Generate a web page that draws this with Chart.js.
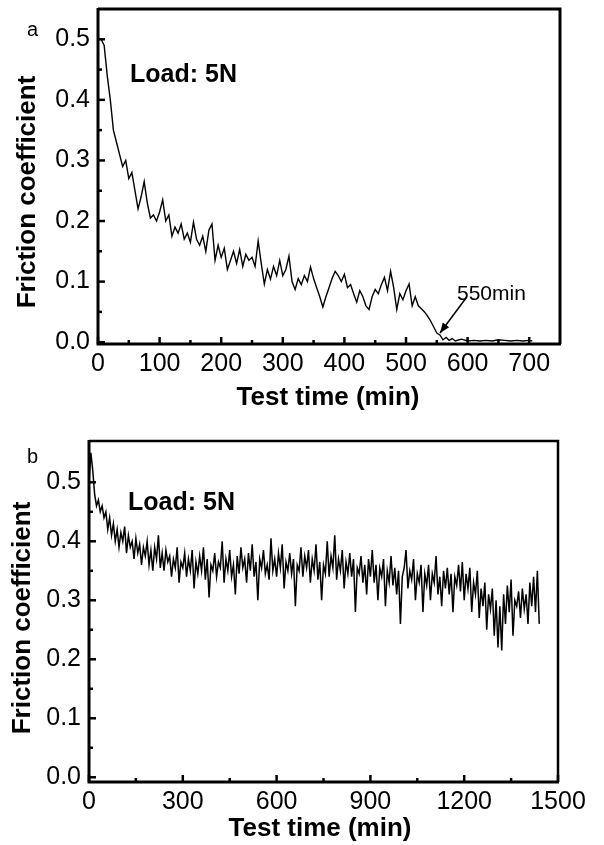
<!DOCTYPE html>
<html>
<head>
<meta charset="utf-8">
<script src="https://cdn.jsdelivr.net/npm/chart.js@4.4.0/dist/chart.umd.min.js"></script>
<style>
  body { margin: 0; background: #fff; }
  #wrapA { position: absolute; left: 0; top: 0; width: 604px; height: 420px; }
  #wrapB { position: absolute; left: 0; top: 420px; width: 604px; height: 425px; }
</style>
</head>
<body>
<div id="wrapA"><canvas id="chartA" width="604" height="420"></canvas></div>
<div id="wrapB"><canvas id="chartB" width="604" height="425"></canvas></div>
<script>
// (a) friction coefficient vs test time, 0-710 min
const timeA = [
  5, 10, 15, 20, 25, 30, 35, 40, 45, 50,
  55, 60, 65, 70, 75, 80, 85, 90, 95, 100,
  105, 110, 115, 120, 125, 130, 135, 140, 145, 150,
  155, 160, 165, 170, 175, 180, 185, 190, 195, 200,
  205, 210, 215, 220, 225, 230, 235, 240, 245, 250,
  255, 260, 265, 270, 275, 280, 285, 290, 295, 300,
  305, 310, 315, 320, 325, 330, 335, 340, 345, 350,
  355, 360, 365, 370, 375, 380, 385, 390, 395, 400,
  405, 410, 415, 420, 425, 430, 435, 440, 445, 450,
  455, 460, 465, 470, 475, 480, 485, 490, 495, 500,
  505, 510, 515, 520, 525, 530, 535, 540, 545, 550,
  555, 560, 565, 570, 575, 580, 590, 600, 610, 620,
  630, 640, 650, 660, 670, 680, 690, 700, 705
];
const frictionA = [
  0.50, 0.49, 0.44, 0.40, 0.35, 0.33, 0.31, 0.29, 0.30, 0.27,
  0.28, 0.25, 0.22, 0.24, 0.265, 0.23, 0.205, 0.21, 0.20, 0.215,
  0.235, 0.20, 0.21, 0.175, 0.19, 0.18, 0.195, 0.17, 0.18, 0.165,
  0.198, 0.17, 0.16, 0.175, 0.15, 0.185, 0.195, 0.135, 0.16, 0.14,
  0.155, 0.12, 0.135, 0.15, 0.13, 0.153, 0.125, 0.145, 0.135, 0.14,
  0.125, 0.167, 0.13, 0.096, 0.12, 0.104, 0.125, 0.11, 0.135, 0.11,
  0.12, 0.142, 0.10, 0.087, 0.105, 0.095, 0.11, 0.10, 0.124, 0.105,
  0.09, 0.075, 0.058, 0.075, 0.09, 0.105, 0.117, 0.11, 0.10, 0.112,
  0.09, 0.095, 0.08, 0.066, 0.085, 0.075, 0.06, 0.054, 0.075, 0.087,
  0.08, 0.095, 0.107, 0.085, 0.117, 0.09, 0.054, 0.08, 0.07, 0.085,
  0.096, 0.06, 0.075, 0.06, 0.055, 0.05, 0.043, 0.035, 0.025, 0.015,
  0.012, 0.004, 0.008, 0.003, 0.006, 0.002, 0.005, 0.002, 0.003, 0.002,
  0.003, 0.002, 0.004, 0.003, 0.002, 0.003, 0.002, 0.003, 0.002
];
const xTicksA = [0, 100, 200, 300, 400, 500, 600, 700];
const xMinorA = [50, 150, 250, 350, 450, 550, 650];
const yTicksA = [0, 0.1, 0.2, 0.3, 0.4, 0.5];
const yMinorA = [0.05, 0.15, 0.25, 0.35, 0.45];

// (b) friction coefficient vs test time, 0-1440 min, one row per hour
const timeB = [
  0, 6, 12, 18, 24, 30, 36, 42, 48, 54,
  60, 66, 72, 78, 84, 90, 96, 102, 108, 114,
  120, 126, 132, 138, 144, 150, 156, 162, 168, 174,
  180, 186, 192, 198, 204, 210, 216, 222, 228, 234,
  240, 246, 252, 258, 264, 270, 276, 282, 288, 294,
  300, 306, 312, 318, 324, 330, 336, 342, 348, 354,
  360, 366, 372, 378, 384, 390, 396, 402, 408, 414,
  420, 426, 432, 438, 444, 450, 456, 462, 468, 474,
  480, 486, 492, 498, 504, 510, 516, 522, 528, 534,
  540, 546, 552, 558, 564, 570, 576, 582, 588, 594,
  600, 606, 612, 618, 624, 630, 636, 642, 648, 654,
  660, 666, 672, 678, 684, 690, 696, 702, 708, 714,
  720, 726, 732, 738, 744, 750, 756, 762, 768, 774,
  780, 786, 792, 798, 804, 810, 816, 822, 828, 834,
  840, 846, 852, 858, 864, 870, 876, 882, 888, 894,
  900, 906, 912, 918, 924, 930, 936, 942, 948, 954,
  960, 966, 972, 978, 984, 990, 996, 1002, 1008, 1014,
  1020, 1026, 1032, 1038, 1044, 1050, 1056, 1062, 1068, 1074,
  1080, 1086, 1092, 1098, 1104, 1110, 1116, 1122, 1128, 1134,
  1140, 1146, 1152, 1158, 1164, 1170, 1176, 1182, 1188, 1194,
  1200, 1206, 1212, 1218, 1224, 1230, 1236, 1242, 1248, 1254,
  1260, 1266, 1272, 1278, 1284, 1290, 1296, 1302, 1308, 1314,
  1320, 1326, 1332, 1338, 1344, 1350, 1356, 1362, 1368, 1374,
  1380, 1386, 1392, 1398, 1404, 1410, 1416, 1422, 1428, 1434,
  1440
];
const frictionB = [
  0.50, 0.55, 0.52, 0.48, 0.46, 0.47, 0.45, 0.46, 0.44, 0.45,
  0.42, 0.44, 0.41, 0.43, 0.40, 0.42, 0.39, 0.415, 0.40, 0.425,
  0.38, 0.41, 0.39, 0.40, 0.37, 0.405, 0.38, 0.395, 0.36, 0.39,
  0.375, 0.40, 0.36, 0.385, 0.35, 0.39, 0.37, 0.41, 0.355, 0.38,
  0.35, 0.385, 0.365, 0.375, 0.34, 0.37, 0.355, 0.39, 0.33, 0.365,
  0.355, 0.38, 0.34, 0.37, 0.35, 0.385, 0.32, 0.365, 0.345, 0.375,
  0.35, 0.39, 0.335, 0.37, 0.305, 0.36, 0.35, 0.38, 0.34, 0.365,
  0.355, 0.40, 0.33, 0.37, 0.35, 0.385, 0.34, 0.36, 0.31, 0.375,
  0.345, 0.39, 0.355, 0.37, 0.33, 0.38, 0.35, 0.395, 0.34, 0.365,
  0.30, 0.37, 0.355, 0.385, 0.345, 0.36, 0.335, 0.405, 0.35, 0.37,
  0.34, 0.38, 0.355, 0.395, 0.32, 0.365, 0.35, 0.38, 0.345, 0.37,
  0.29, 0.36, 0.35, 0.39, 0.34, 0.375, 0.355, 0.385, 0.33, 0.37,
  0.35, 0.395, 0.335, 0.365, 0.30, 0.36, 0.345, 0.40, 0.34, 0.375,
  0.355, 0.41, 0.335, 0.37, 0.35, 0.385, 0.32, 0.365, 0.345, 0.38,
  0.34, 0.37, 0.28, 0.355, 0.345, 0.375, 0.33, 0.36, 0.31, 0.37,
  0.34, 0.385, 0.33, 0.36, 0.30, 0.355, 0.34, 0.37, 0.29, 0.35,
  0.33, 0.375, 0.325, 0.355, 0.31, 0.35, 0.26, 0.34, 0.355, 0.385,
  0.32, 0.35, 0.335, 0.37, 0.30, 0.345, 0.33, 0.36, 0.28, 0.345,
  0.325, 0.36, 0.30, 0.345, 0.33, 0.375, 0.31, 0.34, 0.29, 0.35,
  0.32, 0.355, 0.31, 0.345, 0.28, 0.34, 0.325, 0.36, 0.315, 0.365,
  0.30, 0.345, 0.32, 0.355, 0.28, 0.33, 0.31, 0.35, 0.27, 0.32,
  0.29, 0.33, 0.25, 0.31, 0.285, 0.32, 0.24, 0.30, 0.22, 0.29,
  0.215, 0.31, 0.26, 0.325, 0.28, 0.335, 0.24, 0.30, 0.29, 0.315,
  0.27, 0.32, 0.285, 0.31, 0.26, 0.33, 0.29, 0.34, 0.28, 0.35,
  0.26
];
const xTicksB = [0, 300, 600, 900, 1200, 1500];
const xMinorB = [150, 450, 750, 1050, 1350];
const yTicksB = [0, 0.1, 0.2, 0.3, 0.4, 0.5];
const yMinorB = [0.05, 0.15, 0.25, 0.35, 0.45];

const FONT = "'Liberation Sans', Arial, sans-serif";

// frame, inward ticks and the text annotations
function makeDecor(cfg) {
  return {
    id: "decor",
    afterDraw(chart) {
      const { ctx, chartArea: a } = chart;
      const xs = chart.scales.x;
      const ys = chart.scales.y;
      const line = (x0, y0, x1, y1) => {
        ctx.beginPath();
        ctx.moveTo(x0, y0);
        ctx.lineTo(x1, y1);
        ctx.stroke();
      };
      ctx.save();
      ctx.strokeStyle = "#000";
      ctx.fillStyle = "#000";
      ctx.lineWidth = cfg.frameThin;
      ctx.beginPath();
      ctx.moveTo(a.left, a.top);
      ctx.lineTo(a.right, a.top);
      ctx.lineTo(a.right, a.bottom);
      ctx.stroke();
      ctx.lineWidth = 3;
      ctx.beginPath();
      ctx.moveTo(a.left, a.top - 1);
      ctx.lineTo(a.left, a.bottom);
      ctx.lineTo(a.right + 1, a.bottom);
      ctx.stroke();

      ctx.lineWidth = 2.5;
      cfg.xMajor.forEach((v) => { const p = xs.getPixelForValue(v); line(p, a.bottom, p, a.bottom - 7); });
      cfg.xMinor.forEach((v) => { const p = xs.getPixelForValue(v); line(p, a.bottom, p, a.bottom - 4); });
      cfg.yMajor.forEach((v) => { const p = ys.getPixelForValue(v); line(a.left, p, a.left + 7, p); });
      cfg.yMinor.forEach((v) => { const p = ys.getPixelForValue(v); line(a.left, p, a.left + 4, p); });

      ctx.textBaseline = "alphabetic";
      for (const t of cfg.texts) {
        ctx.font = t.font;
        ctx.textAlign = t.align || "left";
        if (t.rotate) {
          ctx.save();
          ctx.translate(t.x, t.y);
          ctx.rotate(-Math.PI / 2);
          ctx.fillText(t.text, 0, 0);
          ctx.restore();
        } else {
          ctx.fillText(t.text, t.x, t.y);
        }
      }

      if (cfg.arrow) {
        const [x0, y0, x1, y1] = cfg.arrow;
        ctx.lineWidth = 1.5;
        line(x0, y0, x1, y1);
        const ang = Math.atan2(y1 - y0, x1 - x0);
        ctx.beginPath();
        ctx.moveTo(x1, y1);
        ctx.lineTo(x1 - 10 * Math.cos(ang) + 4 * Math.sin(ang), y1 - 10 * Math.sin(ang) - 4 * Math.cos(ang));
        ctx.lineTo(x1 - 10 * Math.cos(ang) - 4 * Math.sin(ang), y1 - 10 * Math.sin(ang) + 4 * Math.cos(ang));
        ctx.closePath();
        ctx.fill();
      }
      ctx.restore();
    },
  };
}

function makeChart(el, opt) {
  return new Chart(el, {
    type: "line",
    data: {
      labels: opt.time,
      datasets: [{
        data: opt.time.map((t, i) => ({ x: t, y: opt.values[i] })),
        borderColor: "#000",
        borderWidth: opt.lineWidth,
        pointRadius: 0,
        tension: 0,
        fill: false,
      }],
    },
    options: {
      responsive: false,
      animation: false,
      devicePixelRatio: 1,
      layout: { padding: opt.padding },
      plugins: { legend: { display: false }, tooltip: { enabled: false } },
      scales: {
        x: {
          type: "linear",
          min: opt.xMin,
          max: opt.xMax,
          grid: { display: false, drawTicks: false },
          border: { display: false },
          afterBuildTicks: (s) => { s.ticks = opt.xTicks.map((v) => ({ value: v })); },
          afterFit: (s) => {
            s.height = opt.xHeight;
            s.paddingLeft = 0;
            s.paddingRight = 0;
          },
          ticks: {
            padding: 5,
            autoSkip: false,
            maxRotation: 0,
            color: "#000",
            font: { family: FONT, size: 25 },
            callback: (v) => String(v),
          },
        },
        y: {
          min: opt.yMin,
          max: opt.yMax,
          grid: { display: false, drawTicks: false },
          border: { display: false },
          afterBuildTicks: (s) => { s.ticks = opt.yTicks.map((v) => ({ value: v })); },
          afterFit: (s) => {
            s.width = opt.yWidth;
            s.paddingTop = 0;
            s.paddingBottom = 0;
          },
          ticks: {
            padding: 8,
            color: "#000",
            font: { family: FONT, size: 25 },
            callback: (v) => Number(v).toFixed(1),
          },
        },
      },
    },
    plugins: [makeDecor(opt.decor)],
  });
}

makeChart(document.getElementById("chartA"), {
  time: timeA,
  values: frictionA,
  lineWidth: 1.4,
  padding: { left: 0, top: 9, right: 44, bottom: 0 },
  xMin: 0, xMax: 750, yMin: -0.003, yMax: 0.55,
  xTicks: xTicksA, yTicks: yTicksA,
  xHeight: 76, yWidth: 98,
  decor: {
    frameThin: 3,
    xMajor: xTicksA, xMinor: xMinorA, yMajor: yTicksA, yMinor: yMinorA,
    texts: [
      { text: "a", x: 27, y: 36, font: `20px ${FONT}` },
      { text: "Load: 5N", x: 130, y: 82, font: `bold 25px ${FONT}` },
      { text: "550min", x: 457, y: 300, font: `21px ${FONT}` },
      { text: "Test time (min)", x: 328, y: 405, font: `bold 26px ${FONT}`, align: "center" },
      { text: "Friction coefficient", x: 35, y: 192, font: `bold 26px ${FONT}`, align: "center", rotate: true },
    ],
    arrow: [466, 298, 440, 333],
  },
});

makeChart(document.getElementById("chartB"), {
  time: timeB,
  values: frictionB,
  lineWidth: 1.5,
  padding: { left: 0, top: 21, right: 46, bottom: 0 },
  xMin: 0, xMax: 1500, yMin: -0.008, yMax: 0.57,
  xTicks: xTicksB, yTicks: yTicksB,
  xHeight: 63, yWidth: 89,
  decor: {
    frameThin: 2.5,
    xMajor: xTicksB, xMinor: xMinorB, yMajor: yTicksB, yMinor: yMinorB,
    texts: [
      { text: "b", x: 27, y: 43, font: `20px ${FONT}` },
      { text: "Load: 5N", x: 128, y: 90, font: `bold 25px ${FONT}` },
      { text: "Test time (min)", x: 320, y: 416, font: `bold 26px ${FONT}`, align: "center" },
      { text: "Friction coefficient", x: 30, y: 198, font: `bold 26px ${FONT}`, align: "center", rotate: true },
    ],
  },
});
</script>
</body>
</html>
